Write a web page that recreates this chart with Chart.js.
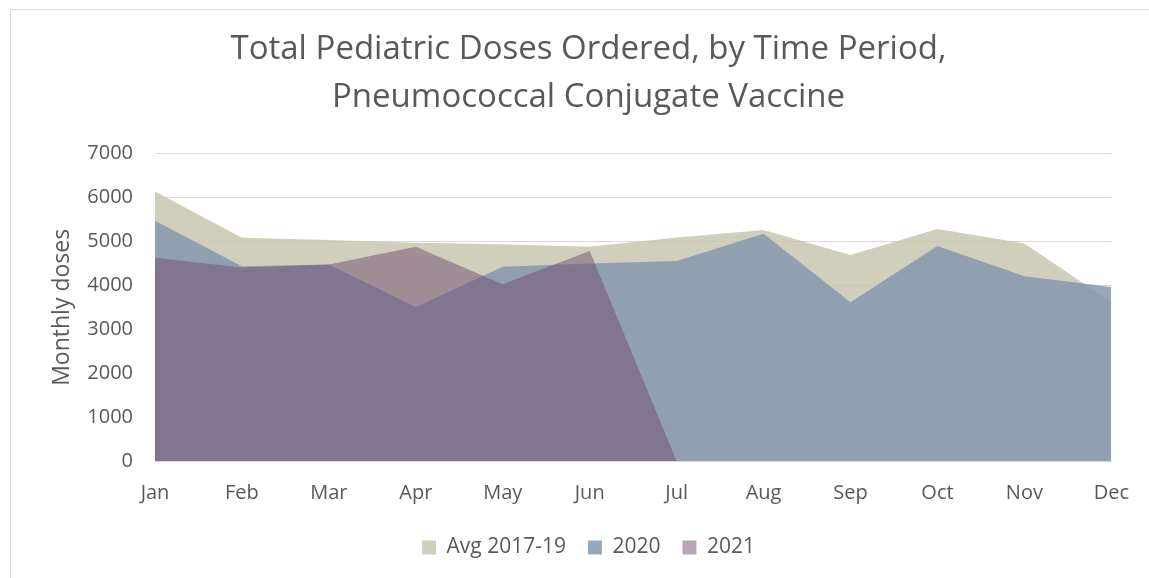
<!DOCTYPE html>
<html>
<head>
<meta charset="utf-8">
<script src="https://cdn.jsdelivr.net/npm/chart.js@4/dist/chart.umd.min.js"></script>
<style>
  html, body { margin: 0; padding: 0; background: #fff; overflow: hidden; }
  #wrap { position: relative; width: 1149px; height: 578px; }
  #frame { position: absolute; left: 10px; top: 9px; width: 1200px; height: 600px;
           border-left: 1px solid #d9d9d9; border-top: 1px solid #d9d9d9; }
  canvas { position: absolute; left: 0; top: 0; }
</style>
</head>
<body>
<div id="wrap">
  <div id="frame"></div>
  <canvas id="c" width="1149" height="578"></canvas>
</div>
<script>
const categories = ['Jan','Feb','Mar','Apr','May','Jun','Jul','Aug','Sep','Oct','Nov','Dec'];
const avg2017_19 = [6140, 5086, 5033, 4971, 4935, 4880, 5090, 5262, 4690, 5285, 4957, 3615];
const y2020 = [5475, 4438, 4477, 3507, 4423, 4500, 4553, 5178, 3615, 4896, 4210, 3965];
const y2021 = [4628, 4408, 4477, 4880, 4026, 4781, 0, null, null, null, null, null];
const yTicks = [0, 1000, 2000, 3000, 4000, 5000, 6000, 7000];

const FONT = "'Open Sans', 'DejaVu Sans', sans-serif";
const GREY = '#595959';

new Chart(document.getElementById('c'), {
  type: 'line',
  data: {
    labels: categories,
    datasets: [
      { label: 'Avg 2017-19', data: avg2017_19, order: 3,
        backgroundColor: 'rgba(196,195,170,0.8)', borderWidth: 0, fill: 'origin', pointRadius: 0, tension: 0 },
      { label: '2020', data: y2020, order: 2,
        backgroundColor: 'rgba(134,153,175,0.85)', borderWidth: 0, fill: 'origin', pointRadius: 0, tension: 0 },
      { label: '2021', data: y2021, order: 1,
        backgroundColor: 'rgba(116,75,114,0.5)', borderWidth: 0, fill: 'origin', pointRadius: 0, tension: 0 }
    ]
  },
  options: {
    responsive: false,
    animation: false,
    layout: { padding: { left: 62, right: 34, top: 0, bottom: 10 } },
    plugins: {
      title: {
        display: true,
        text: ['Total Pediatric Doses Ordered, by Time Period,', 'Pneumococcal Conjugate Vaccine'],
        color: GREY,
        font: { family: FONT, size: 33, weight: 'normal', lineHeight: 1.45 },
        padding: { top: 26, bottom: 32 }
      },
      legend: {
        position: 'bottom',
        labels: {
          color: GREY,
          font: { family: FONT, size: 21 },
          boxWidth: 14, boxHeight: 14,
          padding: 22,
          sort: (a, b) => a.datasetIndex - b.datasetIndex
        }
      },
      tooltip: { enabled: false }
    },
    scales: {
      x: {
        offset: false,
        grid: { display: false, drawTicks: false },
        border: { display: true, color: '#d9d9d9', width: 1 },
        ticks: { color: GREY, font: { family: FONT, size: 20 }, padding: 20, maxRotation: 0, autoSkip: false },
        afterFit: (s) => { s.height = 54; }
      },
      y: {
        min: 0, max: 7000,
        afterBuildTicks: (s) => { s.ticks = yTicks.map(v => ({ value: v })); },
        grid: { color: '#d9d9d9', lineWidth: 1, drawTicks: false },
        border: { display: false },
        ticks: { color: GREY, font: { family: FONT, size: 20 }, padding: 22, callback: (v) => String(v) },
        title: { display: true, text: 'Monthly doses', color: GREY, font: { family: FONT, size: 23 }, padding: { top: -13, bottom: 0 } },
        afterFit: (s) => { s.width = 93; }
      }
    }
  }
});
</script>
</body>
</html>
